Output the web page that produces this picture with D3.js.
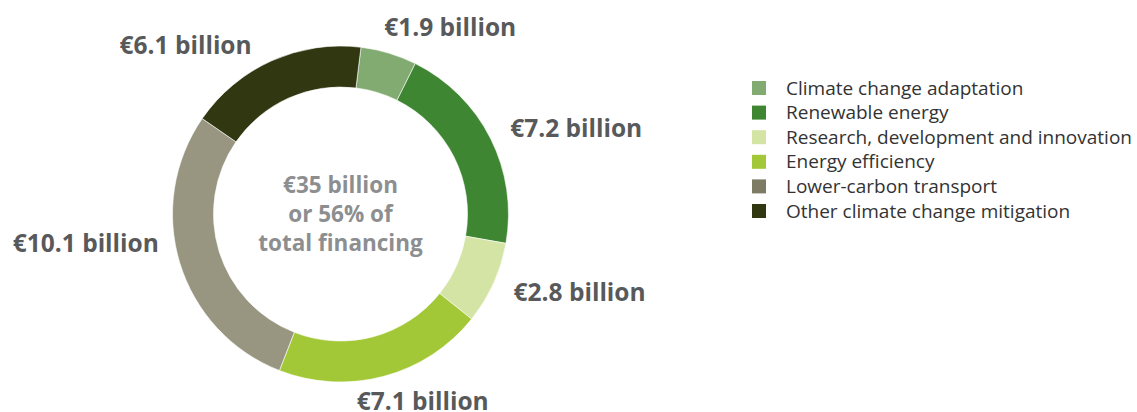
<!DOCTYPE html>
<html>
<head>
<meta charset="utf-8">
<script src="https://cdn.jsdelivr.net/npm/d3@7"></script>
<style>
  body { margin: 0; background: #fff; }
  svg text { font-family: "Open Sans", "Noto Sans", sans-serif; }
</style>
</head>
<body>
<div id="chart"></div>
<script>
// data (billion EUR)
var categories = [
  "Climate change adaptation",
  "Renewable energy",
  "Research, development and innovation",
  "Energy efficiency",
  "Lower-carbon transport",
  "Other climate change mitigation"
];
var values = [1.9, 7.2, 2.8, 7.1, 10.1, 6.1];
var valueLabels = ["€1.9 billion", "€7.2 billion", "€2.8 billion", "€7.1 billion", "€10.1 billion", "€6.1 billion"];
var centreLines = ["€35 billion", "or 56% of", "total financing"];

var colors = ["#82ab72", "#3f8633", "#d3e4a5", "#a3c837", "#989680", "#313811"];
var legendColors = ["#82ab72", "#3f8633", "#d3e4a5", "#a3c837", "#7d7b64", "#313811"];

var svgWidth = 1137;
var svgHeight = 412;

var svg = d3.select("#chart")
  .append("svg")
  .attr("width", svgWidth)
  .attr("height", svgHeight);

// donut centre and radii
var cx = 340.5, cy = 214;
var outerR = 168, innerR = 127;
var startA = 7 * Math.PI / 180;

var pie = d3.pie()
  .sort(null)
  .startAngle(startA)
  .endAngle(startA + 2 * Math.PI);

var arc = d3.arc()
  .innerRadius(innerR)
  .outerRadius(outerR);

var arcs = pie(values);

var donut = svg.append("g")
  .attr("transform", `translate(${cx}, ${cy})`);

donut.selectAll("path")
  .data(arcs)
  .enter()
  .append("path")
  .attr("d", arc)
  .attr("fill", (d, i) => colors[i])
  .attr("stroke", "#fff")
  .attr("stroke-width", 0.6);

// value labels around the ring
var labelArc = d3.arc().innerRadius(190).outerRadius(190);

donut.selectAll("text.val")
  .data(arcs)
  .enter()
  .append("text")
  .attr("class", "val")
  .attr("transform", d => {
    var p = labelArc.centroid(d);
    var mid = (d.startAngle + d.endAngle) / 2;
    var dy = 0;
    // nudge labels to follow the original hand placed layout
    if (Math.sin(mid) < -0.8) dy = -26;
    if (Math.cos(mid) < -0.9) { p[0] -= 33; dy = 4; }
    if (Math.cos(mid) > 0.85) { p[0] -= 11; dy = Math.sin(mid) > 0 ? -5 : 5; }
    return `translate(${p[0]}, ${p[1] + dy})`;
  })
  .attr("text-anchor", d => {
    var mid = (d.startAngle + d.endAngle) / 2;
    return Math.sin(mid) >= 0 ? "start" : "end";
  })
  .attr("dy", "0.35em")
  .attr("font-size", 24.5)
  .attr("font-weight", "bold")
  .attr("fill", "#58595b")
  .text((d, i) => valueLabels[i]);

// centre text
donut.selectAll("text.centre")
  .data(centreLines)
  .enter()
  .append("text")
  .attr("class", "centre")
  .attr("text-anchor", "middle")
  .attr("y", (d, i) => (i - 1) * 29)
  .attr("dy", "0.35em")
  .attr("font-size", 22.5)
  .attr("font-weight", "bold")
  .attr("fill", "#8c8e90")
  .text(d => d);

// legend
var legend = svg.append("g")
  .attr("transform", "translate(752, 88)");

var rows = legend.selectAll("g")
  .data(categories)
  .enter()
  .append("g")
  .attr("transform", (d, i) => `translate(0, ${i * 24.6})`);

rows.append("rect")
  .attr("x", 0)
  .attr("y", -7)
  .attr("width", 14)
  .attr("height", 14)
  .attr("fill", (d, i) => legendColors[i]);

rows.append("text")
  .attr("x", 34)
  .attr("dy", "0.35em")
  .attr("font-size", 19)
  .attr("fill", "#333")
  .text(d => d);
</script>
</body>
</html>
